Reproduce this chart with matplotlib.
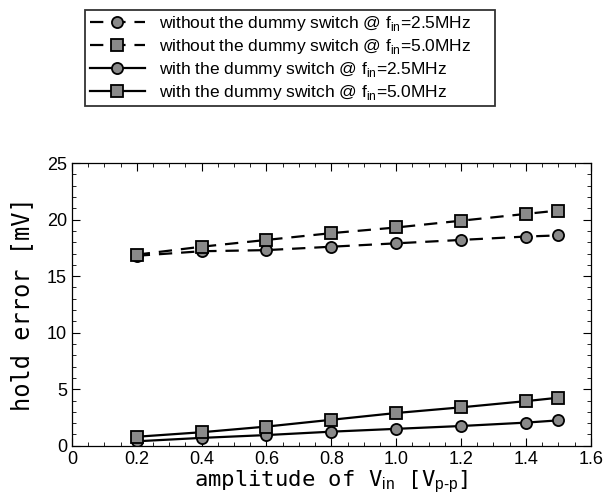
import matplotlib
matplotlib.use('Agg')
import matplotlib.pyplot as plt
from matplotlib.ticker import MultipleLocator

# amplitude of Vin [Vp-p]
amp = [0.2, 0.4, 0.6, 0.8, 1.0, 1.2, 1.4, 1.5]

# hold error [mV]
without_25 = [16.8, 17.2, 17.3, 17.6, 17.9, 18.2, 18.5, 18.6]
without_50 = [16.9, 17.6, 18.2, 18.8, 19.3, 19.9, 20.5, 20.8]
with_25 = [0.4, 0.7, 0.95, 1.25, 1.5, 1.75, 2.05, 2.25]
with_50 = [0.8, 1.2, 1.7, 2.3, 2.9, 3.4, 3.95, 4.25]

labels = [
    r'without the dummy switch @ f$_{\mathrm{in}}$=2.5MHz',
    r'without the dummy switch @ f$_{\mathrm{in}}$=5.0MHz',
    r'with the dummy switch @ f$_{\mathrm{in}}$=2.5MHz',
    r'with the dummy switch @ f$_{\mathrm{in}}$=5.0MHz',
]

plt.rcParams['font.family'] = ['Liberation Sans', 'DejaVu Sans']
plt.rcParams['mathtext.fontset'] = 'custom'
plt.rcParams['mathtext.rm'] = 'Liberation Sans'

fig = plt.figure(figsize=(6.09, 4.97), dpi=100)
ax = fig.add_axes([0.118, 0.103, 0.852, 0.569])

mk = dict(markerfacecolor='#8a8a8a', markeredgecolor='black', markeredgewidth=1.3,
          color='black', linewidth=1.6)
dash = (0, (6, 4))
ax.plot(amp, without_25, marker='o', markersize=8, linestyle=dash, label=labels[0], **mk)
ax.plot(amp, without_50, marker='s', markersize=8, linestyle=dash, label=labels[1], **mk)
ax.plot(amp, with_25, marker='o', markersize=8, linestyle='-', label=labels[2], **mk)
ax.plot(amp, with_50, marker='s', markersize=8, linestyle='-', label=labels[3], **mk)

ax.set_xlim(0, 1.6)
ax.set_ylim(0, 25)
ax.xaxis.set_minor_locator(MultipleLocator(0.05))
ax.yaxis.set_major_locator(MultipleLocator(5))
ax.yaxis.set_minor_locator(MultipleLocator(1))
ax.set_xticks([0, 0.2, 0.4, 0.6, 0.8, 1.0, 1.2, 1.4, 1.6])
ax.set_xticklabels(['0', '0.2', '0.4', '0.6', '0.8', '1.0', '1.2', '1.4', '1.6'])
ax.tick_params(which='both', direction='in', top=True, right=True, labelsize=13)
ax.tick_params(which='major', length=6, width=0.8)
ax.tick_params(which='minor', length=3, width=0.6)
for s in ax.spines.values():
    s.set_linewidth(0.9)

ax.set_xlabel(r'amplitude of V$_{\mathrm{in}}$ [V$_{\mathrm{p\text{-}p}}$]', fontsize=16,
              family=['DejaVu Sans Mono', 'DejaVu Sans'], labelpad=1)
ax.set_ylabel('hold error [mV]', fontsize=17, family=['DejaVu Sans Mono', 'DejaVu Sans'],
              labelpad=9)

leg = fig.legend(loc='upper left', bbox_to_anchor=(0.14, 0.792, 0.672, 0.188), mode='expand',
                 fontsize=12.5, frameon=True, fancybox=False, edgecolor='black',
                 handlelength=3.2, labelspacing=0.22, borderpad=0.25, handletextpad=0.8,
                 borderaxespad=0)
leg.get_frame().set_linewidth(1.3)

fig.savefig('out.png', dpi=100)
